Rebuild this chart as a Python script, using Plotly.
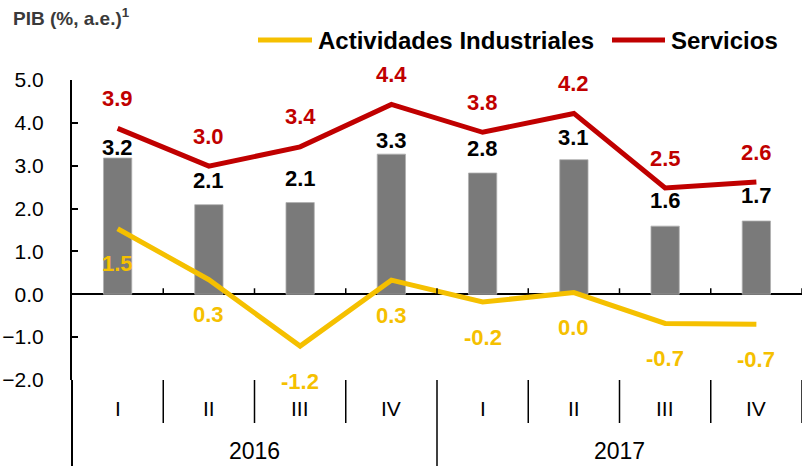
import plotly.graph_objects as go

# ---- data ----
years = ["2016", "2017"]
quarters = ["I", "II", "III", "IV", "I", "II", "III", "IV"]
pib = [3.18, 2.09, 2.14, 3.27, 2.83, 3.14, 1.59, 1.71]
servicios = [3.87, 2.99, 3.44, 4.43, 3.78, 4.22, 2.48, 2.62]
industriales = [1.53, 0.34, -1.21, 0.33, -0.18, 0.04, -0.68, -0.70]
series_names = ["Actividades Industriales", "Servicios"]
y_ticks = [-2, -1, 0, 1, 2, 3, 4, 5]

# ---- style ----
FONT = "Liberation Sans, Arial, sans-serif"
GRAY = "#7a7a7a"
RED = "#c00000"
YELLOW = "#f5c000"
bar_label_shift = [11, 24, 24, 14, 25, 22, 26, 26]
serv_label_shift = 30
ind_label_shift = -35

# plot area geometry (pixels)
L, R, T, B = 72, 802, 80, 380
W, H = R - L, B - T


def px(xp):
    return (xp - L) / W


def py(yp):
    return (B - yp) / H


x = list(range(len(quarters)))

fig = go.Figure()
fig.add_trace(go.Bar(x=x, y=pib, width=0.31, marker=dict(color=GRAY, line=dict(color="#b0b0b0", width=0.8)),
                     showlegend=False, hoverinfo="y"))
fig.add_trace(go.Scatter(x=x, y=industriales, mode="lines", name=series_names[0],
                         line=dict(color=YELLOW, width=5), showlegend=False))
fig.add_trace(go.Scatter(x=x, y=servicios, mode="lines", name=series_names[1],
                         line=dict(color=RED, width=5), showlegend=False))

ann = []
lab_font = dict(family=FONT, size=22, weight="bold")
for i in x:
    ann.append(dict(x=i, y=pib[i], xref="x", yref="y", text=f"{pib[i]:.1f}", showarrow=False,
                    yanchor="middle", yshift=bar_label_shift[i], font=dict(lab_font, color="black")))
    ann.append(dict(x=i, y=servicios[i], xref="x", yref="y", text=f"{servicios[i]:.1f}", showarrow=False,
                    yanchor="middle", yshift=serv_label_shift, font=dict(lab_font, color=RED)))
    ann.append(dict(x=i, y=industriales[i], xref="x", yref="y", text=f"{industriales[i]:.1f}", showarrow=False,
                    yanchor="middle", yshift=ind_label_shift, font=dict(lab_font, color=YELLOW)))
    ann.append(dict(x=i, y=py(408), xref="x", yref="paper", text=quarters[i], showarrow=False,
                    yanchor="middle", font=dict(family=FONT, size=21, color="black")))
for j, yr in enumerate(years):
    ann.append(dict(x=j * 4 + 1.5, y=py(451), xref="x", yref="paper", text=yr, showarrow=False,
                    yanchor="middle", font=dict(family=FONT, size=23, color="black")))

# title
ann.append(dict(x=px(11), y=py(17), xref="paper", yref="paper", text="<b>PIB (%, a.e.)<sup>1</sup></b>",
                showarrow=False, xanchor="left", yanchor="middle",
                font=dict(family=FONT, size=19, color="#3a3a3a")))

shapes = []
# manual legend
leg = [(series_names[0], YELLOW, 258, 312), (series_names[1], RED, 612, 665)]
for name, col, x0, x1 in leg:
    shapes.append(dict(type="line", xref="paper", yref="paper", x0=px(x0), x1=px(x1), y0=py(40), y1=py(40),
                       line=dict(color=col, width=5)))
    ann.append(dict(x=px(x1 + 4), y=py(40), xref="paper", yref="paper", text=name, showarrow=False,
                    xanchor="left", yanchor="middle",
                    font=dict(family=FONT, size=24, weight="bold", color="black")))

n = len(quarters)
for k in range(n):
    xb = k + 0.5
    # small tick marks on the zero line
    shapes.append(dict(type="line", xref="x", yref="y", x0=xb, x1=xb, y0=0, y1=0.14,
                       line=dict(color="black", width=1.5)))
    # separators below the plot
    full = (k + 1) % 4 == 0 and k + 1 < n
    shapes.append(dict(type="line", xref="x", yref="paper", x0=xb, x1=xb, y0=0,
                       y1=(py(466) if full else py(423)), line=dict(color="black", width=1.5)))
# extend y axis line downward
shapes.append(dict(type="line", xref="paper", yref="paper", x0=0, x1=0, y0=0, y1=py(466),
                   line=dict(color="black", width=2)))

fig.update_layout(
    width=802, height=466,
    margin=dict(l=L, r=802 - R, t=T, b=466 - B, autoexpand=False),
    plot_bgcolor="white", paper_bgcolor="white",
    font=dict(family=FONT, color="black"),
    showlegend=False,
    xaxis=dict(range=[-0.5, n - 0.5], showticklabels=False, showgrid=False, zeroline=False,
               showline=False, ticks="", automargin=False),
    yaxis=dict(range=[-2, 5], tickvals=y_ticks, tickformat=".1f", ticks="inside", ticklen=6,
               tickwidth=1.5, tickcolor="black", showline=True, linecolor="black", linewidth=2,
               showgrid=False, zeroline=True, zerolinecolor="black", zerolinewidth=2, automargin=False,
               tickfont=dict(family=FONT, size=21, color="black"), ticklabelstandoff=22),
    annotations=ann, shapes=shapes,
)

fig.write_html("out.html", config={"displayModeBar": False},
               post_script="document.body.style.margin='0';")
